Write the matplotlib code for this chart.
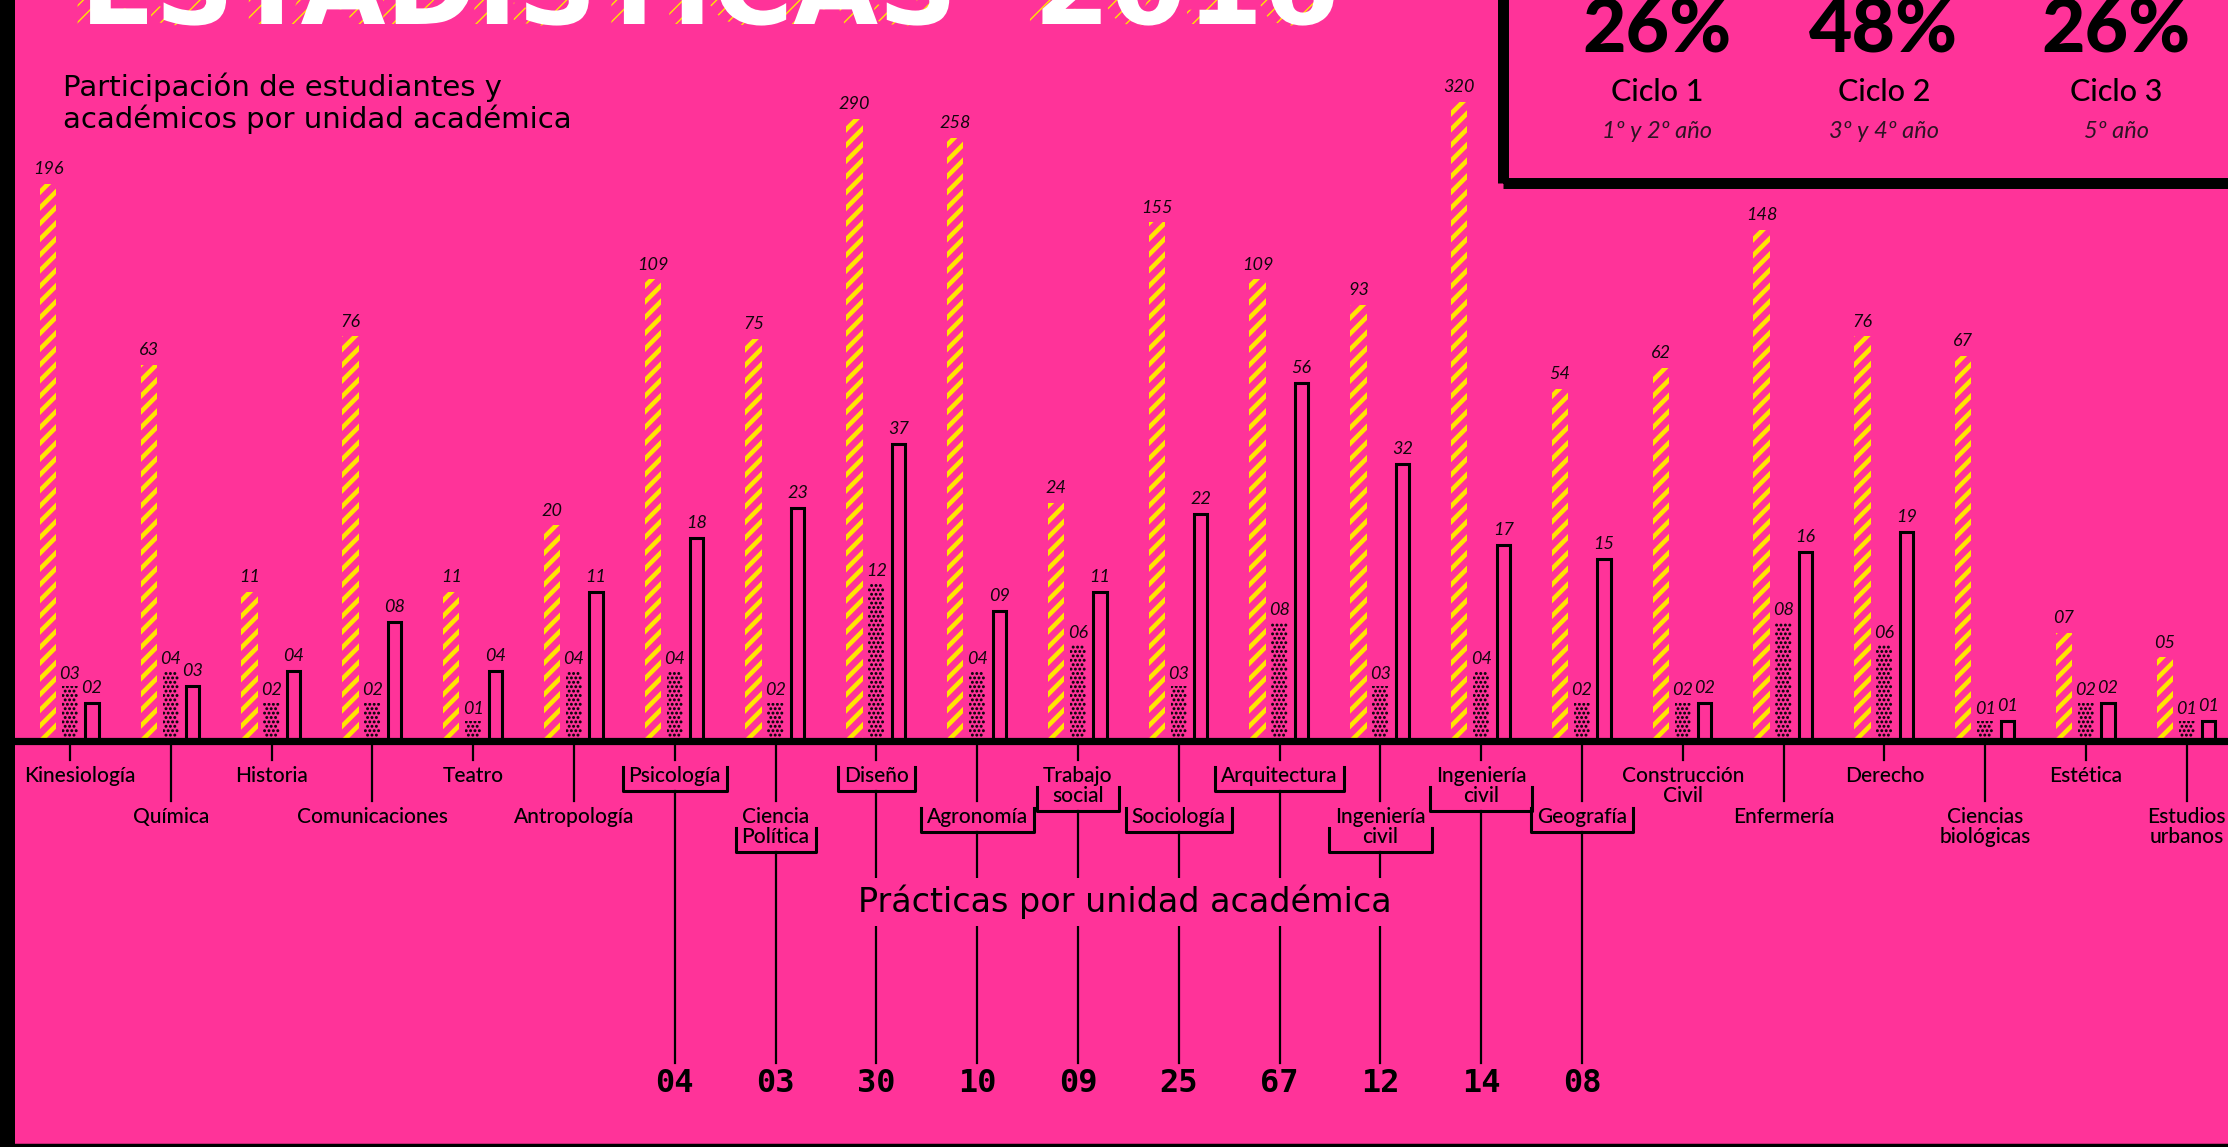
import numpy as np
import matplotlib
matplotlib.use("Agg")
import matplotlib.pyplot as plt
from matplotlib.patches import Rectangle
from matplotlib.lines import Line2D
from matplotlib.collections import LineCollection, CircleCollection
from matplotlib import patheffects as pe
import matplotlib.transforms as mtrans

# ---------------- data ----------------
categories = ["Kinesiología", "Química", "Historia", "Comunicaciones", "Teatro",
              "Antropología", "Psicología", "Ciencia\nPolítica", "Diseño", "Agronomía",
              "Trabajo\nsocial", "Sociología", "Arquitectura", "Ingeniería\ncivil",
              "Ingeniería\ncivil", "Geografía", "Construcción\nCivil", "Enfermería",
              "Derecho", "Ciencias\nbiológicas", "Estética", "Estudios\nurbanos"]
students = [196, 63, 11, 76, 11, 20, 109, 75, 290, 258, 24, 155, 109, 93, 320,
            54, 62, 148, 76, 67, 7, 5]
academics = [3, 4, 2, 2, 1, 4, 4, 2, 12, 4, 6, 3, 8, 3, 4, 2, 2, 8, 6, 1, 2, 1]
practices = [2, 3, 4, 8, 4, 11, 18, 23, 37, 9, 11, 22, 56, 32, 17, 15, 2, 16, 19, 1, 2, 1]

practice_unit_index = [6, 7, 8, 9, 10, 11, 12, 13, 14, 15]
practice_counts = [4, 3, 30, 10, 9, 25, 67, 12, 14, 8]

cycle_pct = [26, 48, 26]
cycle_names = ["Ciclo 1", "Ciclo 2", "Ciclo 3"]
cycle_years = ["1º y 2º año", "3º y 4º año", "5º año"]

title_text = "ESTADÍSTICAS  2016"
subtitle_text = "Participación de estudiantes y\nacadémicos por unidad académica"
practices_title = "Prácticas por unidad académica"

# ---------------- style ----------------
W, H, DPI = 2228, 1147, 100
PINK = "#FF3399"
YELLOW = "#FFE600"
INK = "#12060d"
SOFT = "#2e1424"

def fy(py):
    return 1 - py / H

def fx(px):
    return px / W

fig = plt.figure(figsize=(W / DPI, H / DPI), dpi=DPI, facecolor=PINK)

BASE = 741
ax = fig.add_axes([0, fy(BASE), 1, BASE / H])
ax.set_facecolor("none")
X0, DX = 70.0, 100.8
ax.set_xlim(-X0 / DX, (W - X0) / DX)
ax.set_yscale("function", functions=(lambda v: np.log1p(np.clip(v, 0, None) / 8.0),
                                     lambda y: 8.0 * np.expm1(y)))
ax.set_ylim(0, 586)
ax.axis("off")

x = np.arange(len(categories))
off = 0.218
bw = 0.163

yb = ax.bar(x - off, students, width=bw, facecolor="none", edgecolor="none",
            linewidth=0, zorder=2)
db = ax.bar(x, academics, width=bw, facecolor="none", edgecolor="none",
            linewidth=0, zorder=2)
ob = ax.bar(x + off, practices, width=0.13, facecolor="none", edgecolor="black",
            linewidth=2.2, zorder=2)

lab_kw = dict(ha="center", va="bottom", fontsize=13, family="Lato",
              style="italic", weight="normal", color=INK, textcoords="offset points")
for i in range(len(categories)):
    ax.annotate(f"{students[i]:02d}", (x[i] - off, students[i]), xytext=(0, 5), **lab_kw)
    ax.annotate(f"{academics[i]:02d}", (x[i], academics[i]), xytext=(0, 3), **lab_kw)
    ax.annotate(f"{practices[i]:02d}", (x[i] + off, practices[i]), xytext=(0, 5), **lab_kw)

# baseline
fig.add_artist(Line2D([fx(15), 1], [fy(BASE), fy(BASE)], color="black", lw=5.2,
                      transform=fig.transFigure, zorder=5))

# left strip, bottom line
fig.add_artist(Rectangle((0, 0), fx(15), 1, facecolor="black", edgecolor="none",
                         transform=fig.transFigure))
fig.add_artist(Line2D([0, 1], [fy(1145), fy(1145)], color="black", lw=2.5,
                      transform=fig.transFigure))

# category labels and ticks
bt = mtrans.blended_transform_factory(ax.transData, fig.transFigure)
texts = []
for i, name in enumerate(categories):
    row = i % 2
    tick_end = 760 if row == 0 else 801
    ax.add_artist(Line2D([x[i], x[i]], [fy(BASE), fy(tick_end)], color="black",
                         lw=1.6, transform=bt, clip_on=False))
    ty = 766 if row == 0 else 807
    t = fig.text(0, 0, name, transform=bt, ha="center", va="top",
                 fontsize=15, family="Lato", weight="medium", color="black",
                 linespacing=1.0, multialignment="center")
    t.set_position((x[i], fy(ty)))
    texts.append(t)

fig.canvas.draw()
renderer = fig.canvas.get_renderer()
inv = fig.transFigure.inverted()
ident = mtrans.IdentityTransform()

# keep first label clear of the black strip
bb0 = texts[0].get_window_extent(renderer)
if bb0.x0 < 24:
    texts[0].set_transform(fig.transFigure)
    texts[0].set_ha("left")
    texts[0].set_position((fx(24), fy(766)))

# yellow diagonal stripes inside the student bars
P = 15.7
slope = 1.0
for b in yb:
    e = b.get_window_extent(renderer)
    w = e.x1 - e.x0
    segs = []
    ys = e.y0 - slope * w - P
    while ys < e.y1 + P:
        segs.append([(e.x0 - 3, ys - 3 * slope), (e.x1 + 3, ys + slope * (w + 3))])
        ys += P
    lc = LineCollection(segs, colors=YELLOW, linewidths=3.3, transform=ident, zorder=2)
    lc.set_clip_path(b)
    fig.add_artist(lc)

# dark halftone dots inside the academic bars
S = 4.4
for b in db:
    e = b.get_window_extent(renderer)
    offs = []
    for r, yv in enumerate(np.arange(e.y0 + 1.5, e.y1, S)):
        shift = S / 2 if r % 2 else 0.0
        for xv in np.arange(e.x0 + 1.2 + shift, e.x1, S):
            offs.append((xv, yv))
    if not offs:
        continue
    cc = CircleCollection([3.6], offsets=np.array(offs), offset_transform=ident,
                          facecolors="#140510", edgecolors="none", zorder=2)
    cc.set_transform(ident)
    cc.set_clip_path(b)
    fig.add_artist(cc)

NUM_LINE_END = 1063
for k, idx in enumerate(practice_unit_index):
    bb = texts[idx].get_window_extent(renderer)
    left, right = bb.x0 - 6, bb.x1 + 6
    bottom = bb.y0 - 5
    top = bottom + 24
    xs = [left, left, right, right]
    ys_ = [top, bottom, bottom, top]
    pts = inv.transform(np.column_stack([xs, ys_]))
    fig.add_artist(Line2D(pts[:, 0], pts[:, 1], color="black", lw=2.2,
                          transform=fig.transFigure))
    p0 = inv.transform([[0, bottom]])[0]
    ax.add_artist(Line2D([x[idx], x[idx]], [p0[1], fy(NUM_LINE_END)], color="black",
                         lw=1.6, transform=bt, clip_on=False))
    nt = fig.text(0, 0, f"{practice_counts[k]:02d}", transform=bt, ha="center",
                  va="center", fontsize=23, family="DejaVu Sans Mono",
                  weight="bold", color="black")
    nt.set_position((x[idx], fy(1084)))

fig.text(fx(1125), fy(902), practices_title, ha="center", va="center",
         fontsize=24, family="DejaVu Sans", color="black",
         bbox=dict(facecolor=PINK, edgecolor="none", pad=5))

# subtitle
fig.text(fx(63), fy(72), subtitle_text, ha="left", va="top", fontsize=21,
         family="DejaVu Sans", color="black", linespacing=1.12)

# title (cut at top edge, as in the original)
tt = fig.text(fx(80), fy(24), title_text, ha="left", va="baseline", fontsize=66,
              family="DejaVu Sans", weight="bold", color="white",
              path_effects=[pe.PathPatchEffect(offset=(-9, 0), hatch="//",
                                                facecolor="none", edgecolor=YELLOW,
                                                linewidth=0),
                            pe.Normal()])
fig.canvas.draw()
wt = tt.get_window_extent(renderer).width
tt.set_fontsize(66 * 1259 / wt)

# top-right box
fig.add_artist(Rectangle((fx(1502.5), fy(182.5)), fx(900), 0.3, facecolor="none",
                         edgecolor="black", lw=7.9, transform=fig.transFigure))
cx = [1657, 1884, 2116]
for j in range(3):
    fig.text(fx(cx[j]), fy(31), f"{cycle_pct[j]}%", ha="center", va="center",
             fontsize=54, family="Lato", weight="black", color="black")
    fig.text(fx(cx[j]), fy(92), cycle_names[j], ha="center", va="center",
             fontsize=22, family="Lato", weight="medium", color="black")
    fig.text(fx(cx[j]), fy(131), cycle_years[j], ha="center", va="center",
             fontsize=17, family="Lato", style="italic", weight="normal", color=SOFT)

fig.savefig("out.png", dpi=DPI, facecolor=PINK)
